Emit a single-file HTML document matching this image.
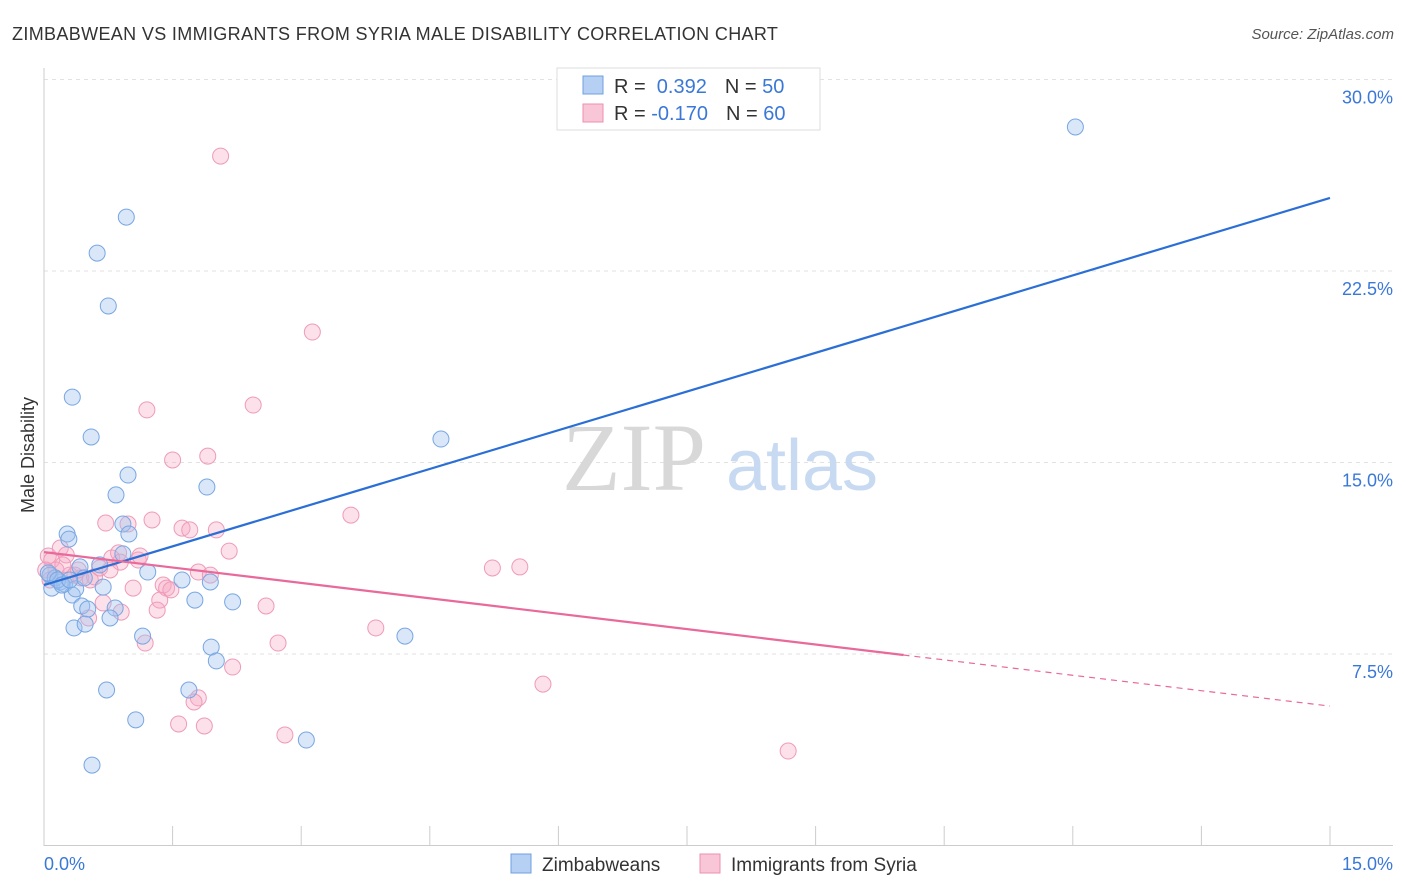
<!DOCTYPE html>
<html><head><meta charset="utf-8"><style>
body{margin:0;background:#fff;font-family:"Liberation Sans",sans-serif;}
svg{display:block}
</style></head><body>
<svg id="chart" width="1406" height="892" xmlns="http://www.w3.org/2000/svg">
<text x="12" y="40" font-size="18" fill="#333" letter-spacing="0.35">ZIMBABWEAN VS IMMIGRANTS FROM SYRIA MALE DISABILITY CORRELATION CHART</text>
<text x="1394" y="39" font-size="15" fill="#555" font-style="italic" text-anchor="end">Source: ZipAtlas.com</text>
<g id="grid"></g>
<g>
<text x="634" y="490" font-size="96" font-family="Liberation Serif,serif" fill="#d8d8d8" text-anchor="middle">ZIP</text>
<text x="802" y="490" font-size="72" fill="#c8daf2" text-anchor="middle">atlas</text>
</g>
<g id="axes"></g>
<g id="points"></g>
<g id="lines"></g>
<text transform="translate(34,455) rotate(-90)" font-size="18" fill="#333" text-anchor="middle">Male Disability</text>
<g>
<rect x="557" y="68" width="263" height="62" fill="#fff" stroke="#ddd"/>
<rect x="583" y="76" width="20" height="18" fill="#b5d0f3" stroke="#6fa0e0"/>
<rect x="583" y="104" width="20" height="18" fill="#f8c6d6" stroke="#ee8fb0"/>
<text x="614" y="93" font-size="20" fill="#333">R = <tspan fill="#3a78d8">&#160;0.392</tspan><tspan dx="18">N = </tspan><tspan fill="#3a78d8">50</tspan></text>
<text x="614" y="120" font-size="20" fill="#333">R = <tspan fill="#3a78d8">-0.170</tspan><tspan dx="18">N = </tspan><tspan fill="#3a78d8">60</tspan></text>
</g>
<g>
<rect x="511" y="854" width="20" height="19" fill="#b5d0f3" stroke="#6fa0e0"/>
<text x="542" y="871" font-size="19" fill="#333">Zimbabweans</text>
<rect x="700" y="854" width="20" height="19" fill="#f8c6d6" stroke="#ee8fb0"/>
<text x="731" y="871" font-size="19" fill="#333">Immigrants from Syria</text>
</g>
</svg>
<script>
const yTicks=[7.5,15,22.5,30];
const yTickLabels=["7.5%","15.0%","22.5%","30.0%"];
const xTicks=[0,1.5,3,4.5,6,7.5,9,10.5,12,13.5,15];
const blueX=[12.03,0.96,0.62,0.75,0.33,0.55,4.63,0.98,0.84,1.90,0.92,0.27,0.29,0.99,0.92,1.21,1.61,1.94,0.07,0.09,0.19,0.24,0.33,0.37,0.42,0.47,0.69,0.44,0.51,0.83,0.77,1.76,2.20,0.35,0.48,1.15,1.95,2.01,4.21,0.73,1.69,1.07,3.06,0.56,0.13,0.05,0.16,0.21,0.30,0.65];
const blueY=[28.14,24.61,23.20,21.13,17.56,16.00,15.92,14.51,13.73,14.04,12.59,12.20,12.00,12.20,11.42,10.71,10.40,10.32,10.59,10.08,10.32,10.24,9.81,10.05,10.91,10.48,10.12,9.38,9.26,9.30,8.91,9.61,9.54,8.52,8.67,8.20,7.77,7.23,8.20,6.09,6.09,4.92,4.13,3.15,10.48,10.67,10.40,10.20,10.40,10.99];
const pinkX=[2.06,3.13,2.44,1.20,1.91,1.50,3.58,1.26,0.72,0.98,1.61,1.70,2.01,2.16,0.05,0.09,0.19,0.26,0.79,0.87,1.10,0.89,1.12,0.14,0.30,0.36,0.43,0.54,0.59,0.65,1.39,1.43,1.48,1.80,1.94,5.23,5.55,1.04,0.69,1.35,1.32,0.90,0.52,2.59,3.87,1.18,2.73,2.20,5.82,1.80,1.75,1.57,1.87,2.81,8.68,0.02,0.07,0.40,0.22,0.77];
const pinkY=[27.00,20.11,17.25,17.06,15.25,15.10,12.94,12.75,12.63,12.59,12.43,12.36,12.36,11.53,11.34,11.18,11.65,11.38,11.26,11.46,11.18,11.10,11.34,10.79,10.59,10.59,10.48,10.40,10.52,10.87,10.20,10.08,10.01,10.71,10.59,10.87,10.91,10.08,9.50,9.61,9.22,9.14,8.91,9.38,8.52,7.93,7.93,6.99,6.32,5.78,5.62,4.76,4.68,4.33,3.70,10.79,10.40,10.79,10.99,10.79];
const blueTrend=[10.20,25.36];
const pinkTrend=[11.49,5.46];
const pinkSolidEnd=7.46;
const NS="http://www.w3.org/2000/svg";
const X=v=>44+v/15*1286;
const Y=v=>845.5-v/7.5*191.5;
function mk(tag,at,parent){const e=document.createElementNS(NS,tag);for(const k in at)e.setAttribute(k,at[k]);parent.appendChild(e);return e;}
const grid=document.getElementById('grid'),axes=document.getElementById('axes');
yTicks.forEach((t,i)=>{
 const g=mk('line',{x1:44,x2:1393,y1:Y(t),y2:Y(t),stroke:'#e2e2e2','stroke-dasharray':'4,4'},grid);
 
 
 const l=mk('text',{x:1393,y:Y(t)+24,'font-size':18,fill:'#3a78d8','text-anchor':'end'},axes);
 l.textContent=yTickLabels[i];
 
 
});
const ay=mk('line',{x1:44,x2:44,y1:68,y2:846,stroke:'#ccc'},axes);


const ax=mk('line',{x1:44,x2:1393,y1:845.5,y2:845.5,stroke:'#ccc'},axes);


xTicks.forEach(t=>{const e=mk('line',{x1:X(t),x2:X(t),y1:826,y2:846,stroke:'#ccc'},axes);
 
 });
const xl0=mk('text',{x:44,y:870,'font-size':18,fill:'#3a78d8'},axes);xl0.textContent='0.0%';


const xl1=mk('text',{x:1393,y:870,'font-size':18,fill:'#3a78d8','text-anchor':'end'},axes);xl1.textContent='15.0%';


const pts=document.getElementById('points');
pinkX.forEach((x,i)=>{const c=mk('circle',{cx:X(x),cy:Y(pinkY[i]),r:8,fill:'rgba(245,170,196,0.35)',stroke:'#ef9ab8','stroke-width':1},pts);
 
 });
blueX.forEach((x,i)=>{const c=mk('circle',{cx:X(x),cy:Y(blueY[i]),r:8,fill:'rgba(160,195,240,0.4)',stroke:'#78a6e2','stroke-width':1},pts);
 
 });
const ln=document.getElementById('lines');
const b=mk('line',{x1:X(0),y1:Y(blueTrend[0]),x2:X(15),y2:Y(blueTrend[1]),stroke:'#2b6fd6','stroke-width':2.2},ln);


const sx=(pinkTrend[0]-pinkSolidEnd)/(pinkTrend[0]-pinkTrend[1])*15;
const p=mk('line',{x1:X(0),y1:Y(pinkTrend[0]),x2:X(sx),y2:Y(pinkSolidEnd),stroke:'#e8699a','stroke-width':2.2},ln);


const pd=mk('line',{x1:X(sx),y1:Y(pinkSolidEnd),x2:X(15),y2:Y(pinkTrend[1]),stroke:'#e8699a','stroke-width':1.2,'stroke-dasharray':'6,5'},ln);


</script>
</body></html>
